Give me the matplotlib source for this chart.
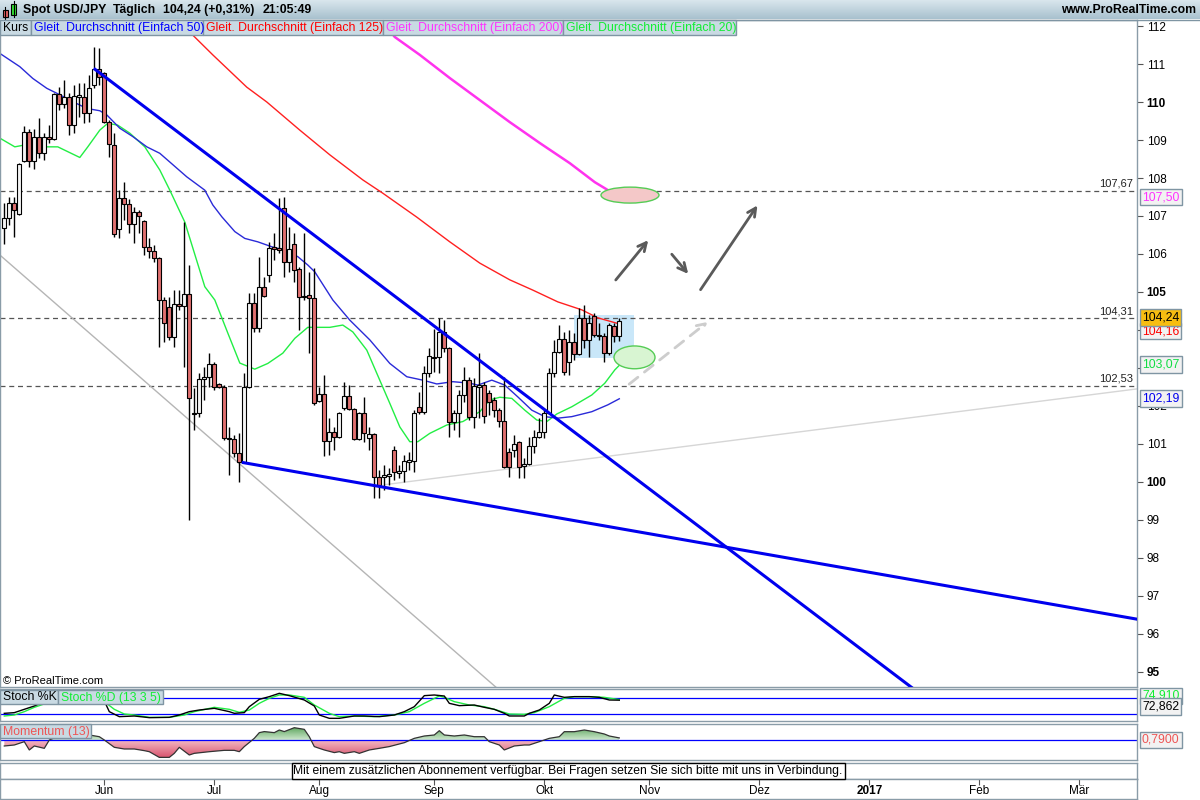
import numpy as np
import pandas as pd
import matplotlib
matplotlib.use("Agg")
import matplotlib.pyplot as plt
import matplotlib.transforms as mtransforms
from matplotlib.colors import LinearSegmentedColormap
from matplotlib.patches import Rectangle, Ellipse
from matplotlib.path import Path

plt.rcParams['font.family'] = ['Liberation Sans', 'DejaVu Sans']

W, H = 1200, 800

# daily candles USD/JPY, candle 1 = 2016-05-04 (business days)
first_day = "2016-05-04"
opens = [106.68, 106.94, 107.35, 107.05, 108.45, 109.22, 108.45, 109.09, 108.65, 109.09,
         109.03, 110.20, 109.94, 110.14, 109.39, 110.14, 110.14, 109.72, 110.45, 110.86,
         110.76, 109.47, 108.86, 106.65, 107.47, 107.32, 106.79, 107.11, 106.87, 106.19,
         106.09, 105.89, 104.79, 104.61, 103.81, 104.68, 104.64, 104.94, 101.79, 101.81,
         102.70, 102.77, 103.10, 102.57, 102.51, 101.15, 101.12, 100.76, 100.53, 102.49,
         104.72, 104.04, 105.14, 105.45, 106.18, 106.16, 107.20, 105.80, 106.26, 105.60,
         104.89, 104.91, 104.83, 102.14, 102.31, 101.08, 101.32, 101.18, 101.94, 102.27,
         101.91, 101.12, 101.81, 101.17, 101.26, 100.14, 100.13, 100.16, 100.84, 100.24,
         100.29, 100.53, 100.55, 101.97, 101.84, 102.87, 103.29, 103.28, 103.95, 103.52,
         101.59, 101.82, 102.29, 102.68, 101.72, 102.50, 102.55, 102.33, 102.16, 101.89,
         101.61, 100.80, 100.84, 101.06, 100.43, 100.47, 100.95, 101.19, 101.32, 101.82,
         102.86, 103.43, 103.76, 103.17, 103.69, 103.36, 104.31, 103.74, 104.37, 103.87,
         103.85, 103.39, 104.11, 103.84]
highs = [107.35, 107.51, 107.51, 108.39, 109.37, 109.29, 109.29, 109.58, 109.18, 109.39,
         110.24, 110.40, 110.58, 110.24, 110.45, 110.50, 110.50, 110.71, 111.46, 111.41,
         110.80, 109.53, 109.18, 107.68, 107.90, 107.44, 107.24, 107.16, 106.89, 106.42,
         106.24, 105.93, 104.88, 104.88, 105.05, 105.05, 106.85, 105.71, 102.47, 102.87,
         103.03, 103.39, 103.17, 102.60, 102.55, 101.45, 101.24, 101.28, 102.86, 104.97,
         104.97, 105.93, 105.40, 106.32, 106.54, 107.47, 107.49, 106.72, 106.54, 105.67,
         106.54, 105.53, 105.63, 102.51, 102.82, 101.68, 101.45, 101.85, 102.64, 102.55,
         101.94, 101.85, 102.24, 101.45, 101.28, 100.32, 100.45, 100.37, 100.95, 100.45,
         100.71, 100.79, 101.89, 102.37, 103.05, 103.53, 104.03, 104.32, 104.26, 103.56,
         101.89, 102.42, 103.03, 102.76, 102.74, 103.39, 102.64, 102.42, 102.24, 101.94,
         102.77, 100.89, 101.24, 101.09, 100.63, 101.19, 101.37, 101.68, 101.89, 103.00,
         103.74, 104.13, 103.96, 104.00, 103.91, 104.57, 104.66, 104.39, 104.44, 104.18,
         103.91, 104.18, 104.18, 104.31]
lows = [106.26, 106.76, 106.45, 107.03, 108.43, 108.30, 108.24, 108.53, 108.47, 108.92,
        109.00, 109.79, 109.84, 109.13, 109.18, 109.61, 109.45, 109.48, 110.36, 110.45,
        109.44, 108.56, 106.46, 106.41, 106.89, 106.54, 106.28, 106.55, 105.97, 105.89,
        105.79, 103.56, 103.69, 103.74, 103.56, 104.53, 103.03, 99.00, 101.37, 101.72,
        102.16, 102.51, 102.42, 102.47, 101.10, 100.18, 100.67, 100.01, 100.51, 102.47,
        103.96, 103.96, 104.88, 105.27, 105.84, 106.03, 105.40, 105.53, 105.27, 104.00,
        104.79, 103.39, 102.03, 102.11, 100.68, 100.71, 100.84, 101.15, 101.89, 101.89,
        101.10, 101.10, 101.06, 100.84, 99.57, 99.57, 99.79, 99.92, 100.05, 100.11,
        100.00, 100.32, 100.26, 101.79, 101.79, 102.77, 102.90, 102.87, 103.42, 101.19,
        101.37, 101.19, 102.11, 101.63, 101.42, 101.68, 101.55, 101.76, 101.72, 101.45,
        100.36, 100.14, 100.67, 100.10, 100.11, 100.45, 100.76, 101.15, 101.15, 101.79,
        102.77, 103.39, 102.82, 102.82, 103.21, 103.34, 103.52, 103.30, 103.82, 103.74,
        103.17, 103.34, 103.69, 103.72]
closes = [106.94, 107.35, 107.16, 108.36, 109.22, 108.45, 109.09, 108.65, 109.09, 109.02,
          110.20, 109.94, 110.14, 109.39, 110.17, 110.18, 109.72, 110.36, 110.86, 110.65,
          109.47, 108.89, 106.53, 107.47, 107.32, 106.79, 107.11, 107.01, 106.19, 106.09,
          105.89, 104.79, 104.18, 103.81, 104.68, 104.64, 104.94, 102.20, 101.81, 102.70,
          102.77, 103.10, 102.51, 102.51, 101.15, 101.12, 100.76, 100.53, 102.49, 104.72,
          104.04, 105.14, 104.89, 106.15, 106.12, 106.11, 105.80, 106.12, 105.58, 104.86,
          104.86, 104.83, 102.07, 102.31, 101.08, 101.32, 101.18, 101.81, 102.27, 101.91,
          101.12, 101.81, 101.28, 101.26, 100.14, 99.92, 100.18, 100.21, 100.26, 100.29,
          100.55, 100.58, 101.82, 101.84, 102.87, 103.32, 103.25, 103.95, 103.52, 101.59,
          101.82, 102.29, 102.68, 101.72, 102.53, 102.55, 101.74, 102.11, 101.89, 101.61,
          100.40, 100.40, 100.99, 100.40, 100.47, 100.95, 101.19, 101.32, 101.82, 102.86,
          103.43, 103.76, 102.90, 103.69, 103.36, 104.31, 103.74, 104.19, 103.87, 103.85,
          103.39, 104.13, 103.84, 104.24]

# moving averages (candle number, price)
ma20_day = [0.1, 3.1, 5.1, 8.1, 11.7, 16.1, 17.7, 20.1, 21.7, 23.7, 26.1, 29.1, 32.1, 34.1,
            37.1, 41.1, 43.1, 45.7, 48.1, 51.1, 53.7, 56.7, 59.1, 61.7, 64.1, 66.1, 68.7,
            70.7, 73.5, 75.5, 78.1, 80.1, 82.1, 83.7, 86.1, 89.5, 92.7, 96.1, 98.1, 100.1,
            102.5, 105.1, 107.5, 109.5, 111.5, 114.5, 118.5, 121.1, 123.1, 124]
ma20_val = [109.05, 108.82, 108.87, 108.82, 108.82, 108.54, 108.82, 109.26, 109.44, 109.39,
            109.18, 108.82, 108.21, 107.68, 106.84, 105.14, 104.79, 103.92, 103.13, 102.97,
            103.12, 103.39, 103.78, 104.07, 104.07, 104.07, 104.13, 103.95, 103.47, 102.86,
            102.07, 101.45, 101.06, 101.06, 101.28, 101.50, 101.59, 101.85, 102.16, 102.23,
            102.20, 101.89, 101.63, 101.59, 101.79, 101.98, 102.29, 102.60, 102.95, 103.07]
ma50_day = [0.1, 4.1, 6.7, 9.5, 11.5, 14.7, 17.5, 20.1, 21.5, 24.1, 26.7, 29.5, 32.1, 37.5,
            41.1, 42.7, 44.5, 47.1, 49.1, 51.7, 54.5, 57.1, 59.7, 61.7, 63.1, 66.7, 70.1,
            74.1, 78.1, 81.5, 84.7, 87.5, 90.7, 94.1, 95.7, 98.5, 101.1, 103.7, 106.5, 109.1,
            111.7, 114.5, 118.5, 121.7, 124]
ma50_val = [111.28, 110.93, 110.62, 110.36, 110.23, 110.01, 109.83, 109.77, 109.66, 109.31,
            109.09, 108.82, 108.65, 108.03, 107.68, 107.29, 106.98, 106.59, 106.41, 106.32,
            106.19, 106.10, 105.93, 105.71, 105.53, 104.79, 104.26, 103.74, 103.12, 102.77,
            102.68, 102.58, 102.64, 102.60, 102.55, 102.68, 102.55, 102.24, 101.89, 101.72,
            101.68, 101.72, 101.85, 102.03, 102.19]
ma125_day = [34.1, 38.7, 42.7, 49.5, 53.5, 60.1, 66.1, 72.7, 76.7, 83.5, 90.1, 96.1, 102.1,
             106.7, 111.7, 116.5, 119.7, 124]
ma125_val = [112.37, 111.76, 111.24, 110.39, 110.00, 109.26, 108.61, 107.95, 107.60, 106.97,
             106.32, 105.76, 105.32, 105.05, 104.74, 104.53, 104.32, 104.16]
ma200_day = [75.1, 79.1, 84.1, 90.1, 96.1, 102.1, 108.1, 114.1, 119.1, 124]
ma200_val = [112.37, 111.71, 111.24, 110.63, 110.05, 109.47, 108.92, 108.39, 107.89, 107.50]

# stochastic (13 3 5)
stoch_k_day = [1, 3, 5, 7, 10, 13, 16, 19, 21, 22, 24, 27, 30, 34, 36, 38, 40, 43, 46, 47,
               49, 50, 52, 54, 56, 58, 61, 63, 64, 66, 68, 71, 73, 76, 79, 81, 83, 85, 87, 89,
               90, 92, 95, 97, 99, 101, 102, 105, 106, 108, 110, 111, 113, 115, 118, 120, 122, 124]
stoch_k_val = [22.6, 25.2, 37.9, 50.6, 75, 88, 85, 92, 70, 29, 9.9, 12.4, 6.1, 7.3, 16.2, 29,
               35.3, 41.7, 29, 22.6, 25.2, 48, 76, 86.3, 99, 90.1, 73.5, 50.6, 16.2, 3.5, 3.5,
               12.4, 12.4, 9.9, 16.2, 29, 48, 90.1, 92.6, 88.8, 60.8, 51.9, 54.4, 45.5, 37.9,
               22.6, 12.4, 12.4, 22.6, 35.3, 60.8, 92.6, 83.7, 86.3, 86.3, 83.7, 73.5, 72.862]
stoch_d_day = [1, 3, 5, 7, 10, 13, 16, 19, 21, 23, 25, 27, 30, 34, 37, 39, 43, 46, 48, 50,
               52, 54, 56, 58, 61, 63, 66, 68, 71, 75, 79, 82, 85, 88, 89, 91, 94, 97, 99, 102,
               105, 107, 110, 113, 115, 118, 121, 124]
stoch_d_val = [12.4, 16.2, 29, 45.5, 65, 82, 86, 88, 67.2, 37.9, 20, 16.2, 7.3, 7.3, 16.2, 29,
               45.5, 37.9, 26.4, 35.3, 60.8, 79.9, 92.6, 92.6, 83.7, 54.4, 22.6, 9.9, 12.4, 9.9,
               16.2, 29, 60.8, 88.8, 83.7, 67.2, 54.4, 48, 37.9, 20, 18.8, 25.2, 48, 79.9, 86.3,
               86.3, 83.7, 74.91]

# momentum (13)
mom_day = [1, 3, 5, 6, 7, 9, 10, 12, 14, 16, 18, 20, 21, 23, 25, 27, 29, 30, 32, 34,
           35, 36, 38, 39, 42, 45, 47, 48, 49, 51, 52, 53, 55, 56, 57, 59, 61, 62, 63, 64,
           65, 67, 68, 69, 71, 72, 74, 76, 78, 80, 81, 83, 85, 87, 88, 89, 91, 93, 95, 97,
           98, 100, 101, 103, 105, 106, 108, 110, 112, 113, 115, 117, 119, 121, 122, 124]
mom_val = [-1.9, -1.57, -0.46, -3.23, -1.9, -2.68, 0.1, 1.5, 2.0, 2.2, 1.77, 1.2, 0.1, -2.34,
           -2.9, -2.9, -3.45, -3.8, -5.7, -5.7, -4.35, -2.35, -4.9, -4.35, -3.8, -3.35, -3.35,
           -3.8, -2.1, 0.65, 2.55, 2.9, 2.55, 3.43, 2.9, 4.2, 3.65, 1.2, -2.1, -2.68, -3.23,
           -4.1, -3.8, -4.35, -3.8, -4.35, -3.23, -2.68, -2.1, -1.23, -0.8, 0.65, 1.43, 1.77,
           3.2, 1.77, 1.43, 1.77, 1.2, 1.2, -0.46, -1.57, -3.23, -1.9, -1.57, -1.57, -0.46,
           0.65, 1.2, 2.87, 2.87, 3.43, 2.87, 2.1, 1.43, 0.79]

# drawings on the chart (candle number, price)
levels = [107.67, 104.31, 102.53]
trend_upper = ([19.14, 182.9], [110.86, 94.55])
trend_lower = ([48.8, 227.54], [100.51, 96.39])
gray_line = ([0.14, 99.5], [105.97, 94.58])
light_line = ([77.14, 227.54], [99.93, 102.45])
arrows = [(122.94, 105.26, 130.14, 106.42), (134.14, 106.05, 138.14, 105.42),
          (139.94, 105.00, 151.94, 107.34)]
dashed_arrow = (125.54, 102.53, 142.14, 104.26)
zone_box = (114.94, 103.26, 12.0, 1.13)
pink_ellipse = (126.14, 107.55, 11.6, 0.42)
green_ellipse = (127.04, 103.28, 8.2, 0.6)

month_labels = ['Jun', 'Jul', 'Aug', 'Sep', 'Okt', 'Nov', 'Dez', '2017', 'Feb', 'Mär']
hidden_ticks = [103, 104]   # covered by the value tags

XLIM = (0.14, 227.54)
FRAME = '#8a9ca8'


def px_axes(fig, x0, y0, x1, y1, **kw):
    return fig.add_axes([x0 / W, 1 - y1 / H, (x1 - x0) / W, (y1 - y0) / H], **kw)


def style_frame(ax):
    for s in ax.spines.values():
        s.set_color(FRAME)
        s.set_linewidth(1)
    ax.set_xlim(*XLIM)


def comma(v, nd=2):
    return f"{v:.{nd}f}".replace('.', ',')


def gradient_fill(ax, x, y, positive, c_near, c_far, far):
    x = np.asarray(x, float)
    y = np.asarray(y, float)
    where = y >= 0 if positive else y <= 0
    poly = ax.fill_between(x, y, 0, where=where, interpolate=True, color='none', lw=0)
    path = Path.make_compound_path(*poly.get_paths())
    cmap = LinearSegmentedColormap.from_list('g', [c_near, c_far])
    grad = np.linspace(0, 1, 100).reshape(-1, 1)
    if positive:
        extent = (x[0], x[-1], 0, far)
    else:
        extent = (x[0], x[-1], far, 0)
        grad = grad[::-1]
    im = ax.imshow(grad, extent=extent, origin='lower', aspect='auto', cmap=cmap, zorder=1)
    im.set_clip_path(path, ax.transData)


def draw_main(fig):
    ax = px_axes(fig, 0, 20, 1137, 687)
    style_frame(ax)
    ax.set_ylim(94.605, 112.158)

    days = np.arange(1, len(closes) + 1)
    o = np.array(opens)
    c = np.array(closes)
    up = c >= o
    lo = np.minimum(o, c)
    h = np.maximum(np.abs(c - o), 0.03)

    # zone box behind candles
    bx, by, bw, bh = zone_box
    ax.add_patch(Rectangle((bx, by), bw, bh, fc='#c9e7f9', ec='none', zorder=1))

    for lv in levels:
        ax.axhline(lv, color='#555555', lw=0.9, ls=(0, (4, 3)), zorder=1.5)
        ax.text(0.9965, lv + 0.05, comma(lv), transform=mtransforms.blended_transform_factory(
            ax.transAxes, ax.transData), ha='right', va='bottom', fontsize=8, color='#222222')

    ax.plot(*gray_line, color='#b5b5b5', lw=1, zorder=2)
    ax.plot(*light_line, color='#d6d6d6', lw=1, zorder=2)

    ax.plot(ma20_day, ma20_val, color='#22ee44', lw=1, zorder=2.5)
    ax.plot(ma50_day, ma50_val, color='#2a2ad8', lw=1, zorder=2.5)
    ax.plot(ma125_day, ma125_val, color='#ff2020', lw=1, zorder=2.5)
    ax.plot(ma200_day, ma200_val, color='#ff33ee', lw=1.8, zorder=2.5)

    ax.vlines(days, lows, highs, color='black', lw=1, zorder=3)
    ax.bar(days[up], h[up], bottom=lo[up], width=0.85, color='#f4f4f4',
           edgecolor='black', linewidth=0.8, zorder=4)
    ax.bar(days[~up], h[~up], bottom=lo[~up], width=0.85, color='#e07070',
           edgecolor='black', linewidth=0.8, zorder=4)

    ax.plot(*trend_upper, color='#0000ee', lw=2.2, zorder=5)
    ax.plot(*trend_lower, color='#0000ee', lw=2.2, zorder=5)

    ex, ey, ew, eh = pink_ellipse
    ax.add_patch(Ellipse((ex, ey), ew, eh, fc='#f4c8c8', ec='#55cc55', lw=1, zorder=5))
    ex, ey, ew, eh = green_ellipse
    ax.add_patch(Ellipse((ex, ey), ew, eh, fc='#d8f5d2', ec='#55cc55', lw=1, zorder=5))

    for x0, y0, x1, y1 in arrows:
        ax.annotate('', xy=(x1, y1), xytext=(x0, y0),
                    arrowprops=dict(arrowstyle='->,head_length=0.6,head_width=0.3',
                                    color='#5a5a5a', lw=2), zorder=6)
    x0, y0, x1, y1 = dashed_arrow
    ax.annotate('', xy=(x1, y1), xytext=(x0, y0),
                arrowprops=dict(arrowstyle='->,head_length=0.6,head_width=0.3',
                                color='#cdcdcd', lw=2, ls=(0, (4, 3))), zorder=6)

    ax.set_xticks([])
    ax.yaxis.tick_right()
    ticks = list(range(95, 113))
    ax.set_yticks(ticks)
    ax.set_yticklabels(['' if t in hidden_ticks else str(t) for t in ticks])
    ax.tick_params(axis='y', length=4, width=0.8, color='#555555', labelsize=8.5, pad=3)
    for t, lab in zip(ticks, ax.get_yticklabels()):
        if t % 5 == 0:
            lab.set_fontweight('bold')
    return ax


def draw_stoch(fig):
    ax = px_axes(fig, 0, 689, 1137, 721)
    style_frame(ax)
    ax.set_ylim(-6.7, 115.5)
    ax.axhline(80, color='#0000ff', lw=0.9)
    ax.axhline(20, color='#0000ff', lw=0.9)
    ax.plot(stoch_d_day, stoch_d_val, color='#22ee44', lw=1)
    ax.plot(stoch_k_day, stoch_k_val, color='black', lw=1)
    ax.set_xticks([])
    ax.set_yticks([])


def draw_momentum(fig):
    ax = px_axes(fig, 0, 724, 1137, 760)
    gradient_fill(ax, mom_day, mom_val, True, '#cfe8cf', '#4c9c4c', 5.0)
    gradient_fill(ax, mom_day, mom_val, False, '#f2b9c4', '#d8506a', -6.0)
    ax.axhline(0, color='#0000ff', lw=0.9, zorder=2)
    ax.plot(mom_day, mom_val, color='#333333', lw=0.9, zorder=3)
    style_frame(ax)
    ax.set_ylim(-6.57, 5.43)
    ax.set_xticks([])
    ax.set_yticks([])


def draw_dates(fig):
    box = px_axes(fig, 0, 763, 1137, 779)
    style_frame(box)
    box.set_xticks([])
    box.set_yticks([])

    ax = px_axes(fig, 0, 779, 1137, 799)
    style_frame(ax)
    ax.set_ylim(0, 1)
    dates = pd.bdate_range(first_day, periods=240)
    s = pd.Series(np.arange(1, len(dates) + 1), index=dates)
    firsts = s.groupby([dates.year, dates.month]).first()
    pos = [int(p) for p in firsts.values if XLIM[0] < p < XLIM[1]][1:]
    ax.set_xticks(pos)
    ax.tick_params(axis='x', top=True, bottom=False, labelbottom=False, direction='in',
                   length=4, color='#555555')
    ax.set_yticks([])
    for p, lab in zip(pos, month_labels):
        ax.text(p, 0.42, lab, ha='center', va='center', fontsize=8.5,
                fontweight='bold' if lab == '2017' else 'normal')


def draw_overlay(fig):
    ov = fig.add_axes([0, 0, 1, 1])
    ov.patch.set_alpha(0)
    grad = np.linspace(0, 1, 50).reshape(-1, 1)
    ov.imshow(grad, extent=(0, W, 19, 0), aspect='auto',
              cmap=LinearSegmentedColormap.from_list('h', ['#d9e6ed', '#a8c1ce']))
    ov.plot([0, W], [19.5, 19.5], color='#7f95a3', lw=1)

    # small icon
    ov.plot([5, 5], [7, 19], color='black', lw=0.8)
    ov.add_patch(Rectangle((3, 10), 5, 7, fc='#e06060', ec='black', lw=0.8))
    ov.plot([13.5, 13.5], [1, 17], color='black', lw=0.8)
    ov.add_patch(Rectangle((11, 4), 5, 11, fc='#33dd33', ec='black', lw=0.8))

    for x, txt in [(23, 'Spot USD/JPY'), (113, 'Täglich'),
                   (163, comma(closes[-1]) + ' (+0,31%)'), (263, '21:05:49')]:
        ov.text(x, 10, txt, fontsize=8.8, fontweight='bold', va='center', ha='left')
    ov.text(1196, 10, 'www.ProRealTime.com', fontsize=8.8, fontweight='bold',
            va='center', ha='right')

    def label_boxes(specs, y0, y1):
        for x0, x1, txt, col in specs:
            ov.add_patch(Rectangle((x0, y0), x1 - x0, y1 - y0, fc='#c9dae3', ec='#7f95a3',
                                   lw=1, zorder=5))
            ov.text(x0 + 3, (y0 + y1) / 2 + 0.5, txt, color=col, fontsize=8.8,
                    va='center', ha='left', zorder=6)

    label_boxes([(0, 31, 'Kurs', 'black'),
                 (31, 203, 'Gleit. Durchschnitt (Einfach 50)', '#0000ff'),
                 (203, 383, 'Gleit. Durchschnitt (Einfach 125)', '#ff0000'),
                 (383, 563, 'Gleit. Durchschnitt (Einfach 200)', '#ff33ff'),
                 (563, 736, 'Gleit. Durchschnitt (Einfach 20)', '#11ee33')], 20, 35)
    label_boxes([(0, 58, 'Stoch %K', 'black'),
                 (58, 163, 'Stoch %D (13 3 5)', '#11ee33')], 690, 704)
    label_boxes([(0, 91, 'Momentum (13)', '#ee5555')], 724, 738)

    ov.text(3, 681, '© ProRealTime.com', fontsize=8, va='center', ha='left')

    def tag(y, txt, col, fc='#f2f2f2', z=7):
        ov.text(1142, y, txt, color=col, fontsize=8.8, va='center', ha='left', zorder=z,
                bbox=dict(boxstyle='square,pad=0.18', fc=fc, ec='#7f95a3', lw=1))

    tag(197, comma(ma200_val[-1]), '#ff33ff')
    tag(317.5, comma(closes[-1]), 'black', fc='#f7bd10', z=8)
    tag(331, comma(ma125_val[-1]), '#ff0000')
    tag(364.5, comma(ma20_val[-1]), '#11dd44')
    tag(398.5, comma(ma50_val[-1]), '#0000ee')
    tag(696, comma(stoch_d_val[-1], 3), '#11ee33')
    tag(706.5, comma(stoch_k_val[-1], 3), 'black', z=8)
    tag(740, comma(mom_val[-1], 4), '#ee5555')

    ov.text(568, 771, 'Mit einem zusätzlichen Abonnement verfügbar. Bei Fragen setzen Sie '
            'sich bitte mit uns in Verbindung.', fontsize=8.7, ha='center', va='center',
            bbox=dict(boxstyle='square,pad=0.15', fc='white', ec='black', lw=1))

    ov.set_xlim(0, W)
    ov.set_ylim(H, 0)
    ov.axis('off')


def main():
    fig = plt.figure(figsize=(12, 8), dpi=100)
    fig.patch.set_facecolor('white')
    draw_main(fig)
    draw_stoch(fig)
    draw_momentum(fig)
    draw_dates(fig)
    draw_overlay(fig)
    fig.savefig("out.png", dpi=100)
    plt.close(fig)


if __name__ == "__main__":
    main()
